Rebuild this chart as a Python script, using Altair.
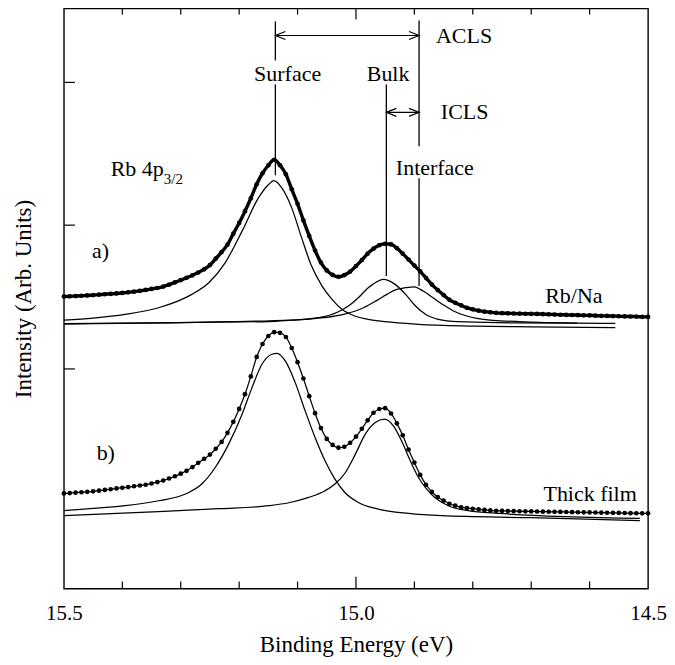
import altair as alt
import pandas as pd

FONT = "Liberation Serif, Times New Roman, DejaVu Serif, serif"

# ---------------- data (energies in eV, intensities in arbitrary units) ----------------
E_GRID = [15.50, 15.49, 15.48, 15.47, 15.46, 15.45, 15.44, 15.43, 15.42, 15.41,
          15.40, 15.39, 15.38, 15.37, 15.36, 15.35, 15.34, 15.33, 15.32, 15.31,
          15.30, 15.29, 15.28, 15.27, 15.26, 15.25, 15.24, 15.23, 15.22, 15.21,
          15.20, 15.19, 15.18, 15.17, 15.16, 15.15, 15.14, 15.13, 15.12, 15.11,
          15.10, 15.09, 15.08, 15.07, 15.06, 15.05, 15.04, 15.03, 15.02, 15.01,
          15.00, 14.99, 14.98, 14.97, 14.96, 14.95, 14.94, 14.93, 14.92, 14.91,
          14.90, 14.89, 14.88, 14.87, 14.86, 14.85, 14.84, 14.83, 14.82, 14.81,
          14.80, 14.79, 14.78, 14.77, 14.76, 14.75, 14.74, 14.73, 14.72, 14.71,
          14.70, 14.69, 14.68, 14.67, 14.66, 14.65, 14.64, 14.63, 14.62, 14.61,
          14.60, 14.59, 14.58, 14.57, 14.56, 14.55, 14.54, 14.53, 14.52, 14.51, 14.50]

RBNA_DATA = [29.25, 29.27, 29.30, 29.33, 29.36, 29.40, 29.44, 29.48, 29.52, 29.56,
             29.61, 29.67, 29.74, 29.82, 29.91, 30.01, 30.11, 30.25, 30.44, 30.67,
             30.90, 31.13, 31.38, 31.66, 31.98, 32.40, 33.05, 33.70, 34.45, 35.55,
             36.62, 37.80, 39.10, 40.50, 41.60, 42.40, 42.95, 42.40, 41.50, 40.00,
             38.54, 36.88, 35.32, 33.86, 32.65, 31.87, 31.42, 31.23, 31.40, 31.75,
             32.30, 32.90, 33.55, 34.05, 34.40, 34.54, 34.47, 34.10, 33.55, 32.95,
             32.35, 31.77, 31.10, 30.45, 29.90, 29.40, 28.92, 28.62, 28.37, 28.12,
             27.97, 27.84, 27.74, 27.67, 27.62, 27.59, 27.57, 27.55, 27.54, 27.53,
             27.52, 27.51, 27.49, 27.47, 27.45, 27.43, 27.41, 27.40, 27.39, 27.37,
             27.36, 27.34, 27.32, 27.31, 27.29, 27.28, 27.26, 27.25, 27.24, 27.22, 27.21]

THICK_DATA = [9.53, 9.57, 9.61, 9.65, 9.69, 9.74, 9.81, 9.88, 9.95, 10.03,
              10.10, 10.17, 10.25, 10.33, 10.40, 10.53, 10.67, 10.83, 11.03, 11.25,
              11.51, 11.80, 12.17, 12.60, 13.00, 13.42, 14.01, 14.69, 15.60, 16.70,
              18.00, 19.47, 21.25, 23.20, 24.50, 25.30, 25.68, 25.62, 25.20, 24.10,
              22.68, 21.04, 19.27, 17.57, 16.08, 14.99, 14.39, 14.12, 14.21, 14.60,
              15.22, 16.01, 16.85, 17.61, 17.99, 18.07, 17.54, 16.55, 15.35, 13.93,
              12.62, 11.39, 10.40, 9.68, 9.17, 8.82, 8.50, 8.31, 8.14, 8.07,
              8.00, 7.94, 7.88, 7.83, 7.79, 7.78, 7.77, 7.76, 7.75, 7.74,
              7.73, 7.72, 7.71, 7.70, 7.69, 7.68, 7.67, 7.66, 7.65, 7.64,
              7.63, 7.62, 7.61, 7.60, 7.59, 7.58, 7.57, 7.56, 7.55, 7.54, 7.54]

# fitted components, Rb/Na
RBNA_SURF_E = [15.500, 15.450, 15.395, 15.338, 15.281, 15.252, 15.224, 15.195, 15.167, 15.150,
               15.141, 15.127, 15.110, 15.093, 15.076, 15.058, 15.041, 15.024, 15.002, 14.979,
               14.950, 14.893, 14.800, 14.700, 14.556]
RBNA_SURF_I = [26.90, 27.10, 27.47, 28.13, 29.47, 30.63, 32.63, 35.80, 39.13, 40.45,
               40.85, 40.13, 38.13, 35.13, 32.30, 30.30, 28.97, 27.97, 27.30, 26.97,
               26.73, 26.47, 26.30, 26.22, 26.13]
RBNA_BULK_E = [15.500, 15.150, 15.115, 15.064, 15.030, 15.013, 14.996, 14.979, 14.962, 14.953,
               14.933, 14.915, 14.898, 14.881, 14.859, 14.825, 14.756, 14.621]
RBNA_BULK_I = [26.55, 26.75, 26.87, 27.13, 27.73, 28.30, 29.13, 30.13, 30.80, 30.97,
               30.47, 29.47, 28.30, 27.47, 26.97, 26.73, 26.63, 26.58]
RBNA_INTF_E = [15.500, 15.107, 15.056, 15.021, 14.987, 14.964, 14.947, 14.930, 14.900, 14.885,
               14.868, 14.850, 14.833, 14.816, 14.793, 14.765, 14.700, 14.556]
RBNA_INTF_I = [26.50, 26.90, 27.13, 27.47, 28.13, 28.87, 29.47, 29.97, 30.23, 29.80,
               29.13, 28.40, 27.80, 27.40, 27.07, 26.87, 26.70, 26.57]

# fitted components, thick film
THICK_SURF_E = [15.500, 15.450, 15.395, 15.338, 15.292, 15.264, 15.241, 15.218, 15.195, 15.178,
                15.161, 15.144, 15.135, 15.121, 15.104, 15.087, 15.070, 15.053, 15.036, 15.019,
                14.996, 14.962, 14.910, 14.853, 14.700, 14.514]
THICK_SURF_I = [7.80, 8.03, 8.30, 8.80, 9.47, 10.47, 12.13, 14.47, 17.47, 20.13,
                22.47, 23.47, 23.57, 22.80, 20.63, 17.80, 15.13, 12.80, 10.97, 9.63,
                8.63, 7.97, 7.53, 7.30, 7.10, 6.80]
THICK_BULK_E = [15.500, 15.338, 15.235, 15.150, 15.115, 15.081, 15.053, 15.036, 15.018, 15.001,
                14.984, 14.967, 14.951, 14.936, 14.922, 14.907, 14.893, 14.879, 14.865, 14.842,
                14.808, 14.756, 14.514]
THICK_BULK_I = [7.30, 7.70, 8.00, 8.30, 8.60, 9.13, 9.80, 10.47, 11.63, 13.47,
                15.47, 16.63, 16.97, 16.30, 14.80, 12.80, 11.13, 9.97, 9.13, 8.30,
                7.80, 7.53, 7.04]

# peak-position markers (energy, top, bottom)
MARK_E = [15.138, 15.138, 14.948, 14.892, 14.892]
MARK_TOP = [56.8, 50.5, 50.5, 56.9, 41.1]
MARK_BOT = [52.9, 41.4, 31.3, 44.3, 30.3]

# shift arrows: ACLS (surface -> interface), ICLS (bulk -> interface)
ARROW_FROM = [15.138, 14.948]
ARROW_TO = [14.892, 14.892]
ARROW_I = [55.4, 47.7]

# axis ticks
X_LABELS = [15.5, 15.0, 14.5]
X_MINOR = [15.4, 15.3, 15.2, 15.1, 14.9, 14.8, 14.7, 14.6]
X_MAJOR = [15.0]
Y_TICKS = [22.0, 36.4, 50.7]

# text labels
LBL_C_TEXT = ["ACLS", "Surface", "Bulk", "ICLS", "Interface"]
LBL_C_E = [14.815, 15.117, 14.945, 14.814, 14.865]
LBL_C_I = [55.3, 51.5, 51.5, 47.7, 42.1]
LBL_L_TEXT = ["Rb 4p", "a)", "b)", "Rb/Na", "Thick film"]
LBL_L_E = [15.420, 15.452, 15.444, 14.676, 14.679]
LBL_L_I = [42.0, 33.8, 13.6, 29.3, 9.45]
SUB_TEXT = ["3/2"]
SUB_E = [15.329]
SUB_I = [41.0]

# ---------------- tables ----------------
spec_a = pd.DataFrame({"E": E_GRID, "I": RBNA_DATA})
spec_b = pd.DataFrame({"E": E_GRID, "I": THICK_DATA})
comps = pd.concat([
    pd.DataFrame({"E": RBNA_SURF_E, "I": RBNA_SURF_I, "c": "a_surf"}),
    pd.DataFrame({"E": RBNA_BULK_E, "I": RBNA_BULK_I, "c": "a_bulk"}),
    pd.DataFrame({"E": RBNA_INTF_E, "I": RBNA_INTF_I, "c": "a_intf"}),
    pd.DataFrame({"E": THICK_SURF_E, "I": THICK_SURF_I, "c": "b_surf"}),
    pd.DataFrame({"E": THICK_BULK_E, "I": THICK_BULK_I, "c": "b_bulk"}),
])
marks = pd.DataFrame({"E": MARK_E, "I": MARK_TOP, "I2": MARK_BOT})
arrows = pd.DataFrame({"E": ARROW_FROM, "E2": ARROW_TO, "I": ARROW_I})
heads_l = pd.DataFrame({"E": ARROW_FROM, "I": ARROW_I})
heads_r = pd.DataFrame({"E": ARROW_TO, "I": ARROW_I})
lbl_c = pd.DataFrame({"t": LBL_C_TEXT, "E": LBL_C_E, "I": LBL_C_I})
lbl_l = pd.DataFrame({"t": LBL_L_TEXT, "E": LBL_L_E, "I": LBL_L_I})
lbl_s = pd.DataFrame({"t": SUB_TEXT, "E": SUB_E, "I": SUB_I})
xminor = pd.DataFrame({"E": X_MINOR})
xmajor = pd.DataFrame({"E": X_MAJOR})
yticks = pd.DataFrame({"I": Y_TICKS})

W, H = 585, 581
xs = alt.Scale(domain=[14.5, 15.5], reverse=True, nice=False, zero=False)
ys = alt.Scale(domain=[0, 58.1], nice=False, zero=False)
xaxis = alt.Axis(values=X_LABELS, format=".1f", ticks=False, domain=False, grid=False,
                 title="Binding Energy (eV)", labelFont=FONT, labelFontSize=21,
                 labelColor="black", labelPadding=14, labelFlush=False,
                 titleFont=FONT, titleFontSize=23, titleFontWeight="normal",
                 titleColor="black", titlePadding=10)
yaxis = alt.Axis(labels=False, ticks=False, domain=False, grid=False,
                 title="Intensity (Arb. Units)", titleFont=FONT, titleFontSize=23,
                 titleFontWeight="normal", titleColor="black", titlePadding=28)


def X(f):
    return alt.X(f, type="quantitative", scale=xs, axis=xaxis)


def Y(f):
    return alt.Y(f, type="quantitative", scale=ys, axis=yaxis)


order = alt.Order("E:Q", sort="descending")

comp_layer = alt.Chart(comps).mark_line(color="black", strokeWidth=1.25, interpolate="monotone").encode(
    x=X("E"), y=Y("I"), detail="c:N", order=order)

a_line = alt.Chart(spec_a).mark_line(color="black", strokeWidth=3.4, interpolate="monotone").encode(
    x=X("E"), y=Y("I"), order=order)
a_pts = alt.Chart(spec_a).mark_circle(color="black", size=22, opacity=1).encode(x=X("E"), y=Y("I"))

b_line = alt.Chart(spec_b).mark_line(color="black", strokeWidth=1.25, interpolate="monotone").encode(
    x=X("E"), y=Y("I"), order=order)
b_pts = alt.Chart(spec_b).mark_circle(color="black", size=22, opacity=1).encode(x=X("E"), y=Y("I"))

vmarks = alt.Chart(marks).mark_rule(color="black", strokeWidth=1.3).encode(
    x=X("E"), y=Y("I"), y2=alt.Y2("I2"))
shafts = alt.Chart(arrows).mark_rule(color="black", strokeWidth=1.1).encode(
    x=X("E"), x2=alt.X2("E2"), y=Y("I"))
hl = alt.Chart(heads_l).mark_point(shape="M2,-0.8L0,0L2,0.8", size=100, filled=False,
                                   color="black", strokeWidth=1.2, opacity=1).encode(x=X("E"), y=Y("I"))
hr = alt.Chart(heads_r).mark_point(shape="M-2,-0.8L0,0L-2,0.8", size=100, filled=False,
                                   color="black", strokeWidth=1.2, opacity=1).encode(x=X("E"), y=Y("I"))

txt_c = alt.Chart(lbl_c).mark_text(font=FONT, fontSize=22, align="center", baseline="middle",
                                    color="black").encode(x=X("E"), y=Y("I"), text="t:N")
txt_l = alt.Chart(lbl_l).mark_text(font=FONT, fontSize=22, align="left", baseline="middle",
                                    color="black").encode(x=X("E"), y=Y("I"), text="t:N")
txt_s = alt.Chart(lbl_s).mark_text(font=FONT, fontSize=15, align="left", baseline="middle",
                                    color="black").encode(x=X("E"), y=Y("I"), text="t:N")

bt_minor = alt.Chart(xminor).mark_rule(color="black", strokeWidth=1.2).encode(
    x=X("E"), y=alt.value(H), y2=alt.value(H - 7))
bt_major = alt.Chart(xmajor).mark_rule(color="black", strokeWidth=1.2).encode(
    x=X("E"), y=alt.value(H), y2=alt.value(H - 12))
tt_minor = alt.Chart(xminor).mark_rule(color="black", strokeWidth=1.2).encode(
    x=X("E"), y=alt.value(0), y2=alt.value(6))
tt_major = alt.Chart(xmajor).mark_rule(color="black", strokeWidth=1.2).encode(
    x=X("E"), y=alt.value(0), y2=alt.value(11))
lt = alt.Chart(yticks).mark_rule(color="black", strokeWidth=1.2).encode(
    y=Y("I"), x=alt.value(0), x2=alt.value(11))

chart = alt.layer(
    comp_layer, b_line, b_pts, a_line, a_pts, vmarks, shafts, hl, hr,
    txt_c, txt_l, txt_s, bt_minor, bt_major, tt_minor, tt_major, lt
).properties(
    width=W, height=H,
    autosize=alt.AutoSizeParams(type="none"),
    padding={"left": 56, "top": 0, "right": 19, "bottom": 68},
    background="white",
).configure_view(stroke="black", strokeWidth=1.4)

chart.save("out.html", embed_options={"renderer": "svg", "actions": False})
